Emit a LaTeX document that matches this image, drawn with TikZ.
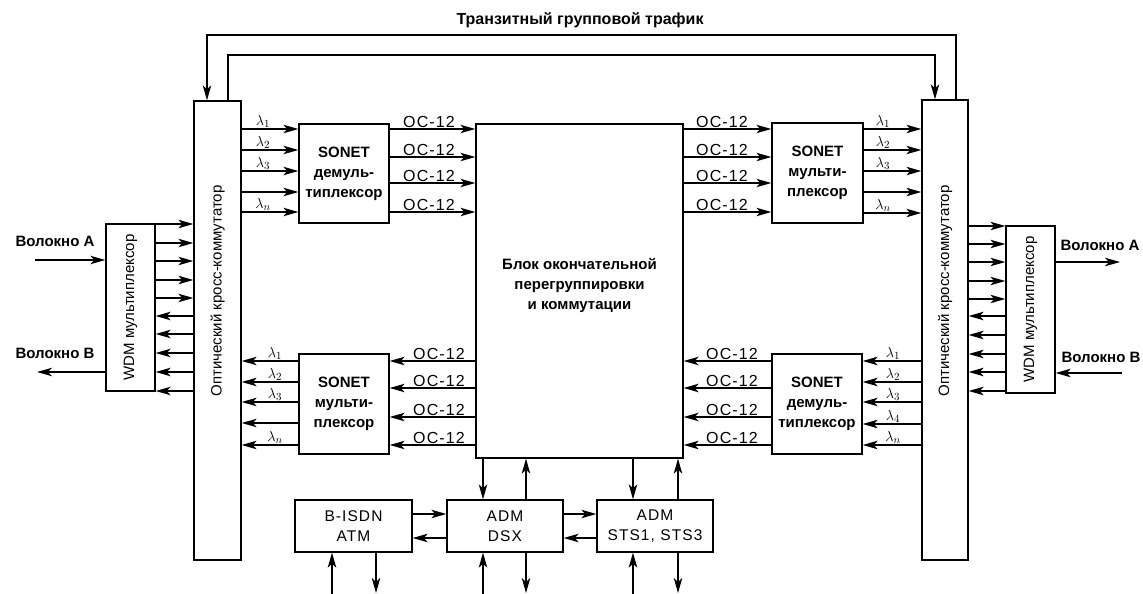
\documentclass[tikz,border=0pt]{standalone}
\usepackage{fontspec}
\setmainfont{Liberation Sans}
\newfontfamily\widefont[LetterSpace=7]{Liberation Sans}
\usetikzlibrary{arrows.meta}
\begin{document}
\begin{tikzpicture}[x=1pt,y=-1pt,
  box/.style={draw, line width=1.3pt, inner sep=0pt, align=center},
  arr/.style={line width=1.3pt, -{Stealth[length=15pt,width=8.5pt,inset=4pt]}},
  txt/.style={font=\fontsize{15}{20}\selectfont, align=center, inner sep=0pt},
  wtxt/.style={font=\widefont\fontsize{15.5}{20}\selectfont, align=center, inner sep=0pt},
  btxt/.style={font=\bfseries\fontsize{15}{20}\selectfont, align=center, inner sep=0pt},
  lam/.style={anchor=south, inner sep=1pt, font=\fontsize{15}{15}\selectfont},
  oc/.style={anchor=south, inner sep=1.5pt, font=\widefont\fontsize{16}{16}\selectfont}]
\useasboundingbox (0,0) rectangle (1143,594);

% main boxes
\node[box, minimum width=47pt, minimum height=459pt] (oxcL) at (217.5,330.5) {};
\node[box, minimum width=46pt, minimum height=460pt] (oxcR) at (945,330) {};
\node[box, minimum width=49pt, minimum height=167pt] (wdmL) at (130.5,307.5) {};
\node[box, minimum width=49pt, minimum height=167pt] (wdmR) at (1030.5,309.5) {};
\node[box, btxt, minimum width=90pt, minimum height=99pt] (demuxTL) at (344,173.5) {SONET\\демуль-\\типлексор};
\node[box, btxt, minimum width=91pt, minimum height=100pt] (muxTR) at (817.5,173) {SONET\\мульти-\\плексор};
\node[box, btxt, minimum width=90pt, minimum height=100pt] (muxBL) at (344,404) {SONET\\мульти-\\плексор};
\node[box, btxt, minimum width=90pt, minimum height=100pt] (demuxBR) at (817,404) {SONET\\демуль-\\типлексор};
\node[box, minimum width=207pt, minimum height=334pt] (core) at (579.5,291) {};
\node[box, wtxt, minimum width=117pt, minimum height=52pt] (bisdn) at (353.5,526) {B-ISDN\\ATM};
\node[box, wtxt, minimum width=116pt, minimum height=52pt] (admdsx) at (505,526) {ADM\\DSX};
\node[box, wtxt, minimum width=116pt, minimum height=52pt] (admsts) at (655,526) {ADM\\STS1, STS3};

% texts
\node[btxt] (coret) at (579.5,285) {Блок окончательной\\перегруппировки\\и коммутации};
\node[txt, rotate=90] (oxcLt) at (217.5,291) {Оптический кросс-коммутатор};
\node[txt, rotate=90] (oxcRt) at (945,291) {Оптический кросс-коммутатор};
\node[txt, rotate=90] (wdmLt) at (130.5,307.5) {WDM мультиплексор};
\node[txt, rotate=90] (wdmRt) at (1030.5,309.5) {WDM мультиплексор};
\node[btxt, font=\bfseries\fontsize{16}{20}\selectfont] (title) at (580,20) {Транзитный групповой трафик};
\node[btxt] (fAL) at (55,241) {Волокно А};
\node[btxt] (fBL) at (55,353) {Волокно В};
\node[btxt] (fAR) at (1100,245) {Волокно А};
\node[btxt] (fBR) at (1101,357) {Волокно В};

% transit loops
\draw[arr] (oxcR.north -| 956,0) -- (956,35) -- (207,35) -- (oxcL.north -| 207,0);
\draw[arr] (oxcL.north -| 228,0) -- (228,55) -- (935,55) -- (oxcR.north -| 935,0);

% fibres
\coordinate (inAL) at (35,260);
\coordinate (outBL) at (37,372);
\coordinate (outAR) at (1120,262);
\coordinate (inBR) at (1122,373);
\draw[arr] (inAL) -- (wdmL.west |- inAL);
\draw[arr] (wdmL.west |- outBL) -- (outBL);
\draw[arr] (wdmR.east |- outAR) -- (outAR);
\draw[arr] (inBR) -- (wdmR.east |- inBR);

% WDM <-> OXC
\foreach \y in {224,243,261,280,298} \draw[arr] (wdmL.east |- 0,\y) -- (oxcL.west |- 0,\y);
\foreach \y in {316,334,353,372,391} \draw[arr] (oxcL.west |- 0,\y) -- (wdmL.east |- 0,\y);
\foreach \y in {226,244,262,281,299} \draw[arr] (oxcR.east |- 0,\y) -- (wdmR.west |- 0,\y);
\foreach \y in {316,335,354,372,391} \draw[arr] (wdmR.west |- 0,\y) -- (oxcR.east |- 0,\y);

% OXC <-> SONET
\foreach \y in {129,150,171,192,212} \draw[arr] (oxcL.east |- 0,\y) -- (demuxTL.west |- 0,\y);
\foreach \y in {129,150,171,192,213} \draw[arr] (muxTR.east |- 0,\y) -- (oxcR.west |- 0,\y);
\foreach \y in {361,382,402,423,445} \draw[arr] (muxBL.west |- 0,\y) -- (oxcL.east |- 0,\y);
\foreach \y in {361,382,402,424,445} \draw[arr] (oxcR.west |- 0,\y) -- (demuxBR.east |- 0,\y);

\foreach \y/\l in {129/1,150/2,171/3,212/n} \node[lam] (lTL\y) at (263,\y) {$\lambda_{\l}$};
\foreach \y/\l in {129/1,150/2,171/3,213/n} \node[lam] (lTR\y) at (883,\y) {$\lambda_{\l}$};
\foreach \y/\l in {361/1,382/2,402/3,445/n} \node[lam] (lBL\y) at (275,\y) {$\lambda_{\l}$};
\foreach \y/\l in {361/1,382/2,402/3,424/4,445/n} \node[lam] (lBR\y) at (893,\y) {$\lambda_{\l}$};

% SONET <-> core
\foreach \y in {129,157,183,212} {
  \draw[arr] (demuxTL.east |- 0,\y) -- (core.west |- 0,\y);
  \node[oc] (ocTL\y) at (429,\y) {OC-12};
  \draw[arr] (core.east |- 0,\y) -- (muxTR.west |- 0,\y);
  \node[oc] (ocTR\y) at (722,\y) {OC-12};
}
\foreach \y in {361,388,417,445} {
  \draw[arr] (core.west |- 0,\y) -- (muxBL.east |- 0,\y);
  \node[oc] (ocBL\y) at (439,\y) {OC-12};
  \draw[arr] (demuxBR.west |- 0,\y) -- (core.east |- 0,\y);
  \node[oc] (ocBR\y) at (732,\y) {OC-12};
}

% core <-> ADMs
\draw[arr] (core.south -| 483,0) -- (admdsx.north -| 483,0);
\draw[arr] (admdsx.north -| 526,0) -- (core.south -| 526,0);
\draw[arr] (core.south -| 633,0) -- (admsts.north -| 633,0);
\draw[arr] (admsts.north -| 678,0) -- (core.south -| 678,0);

% between bottom boxes
\draw[arr] (bisdn.east |- 0,514) -- (admdsx.west |- 0,514);
\draw[arr] (admdsx.west |- 0,538) -- (bisdn.east |- 0,538);
\draw[arr] (admdsx.east |- 0,514) -- (admsts.west |- 0,514);
\draw[arr] (admsts.west |- 0,538) -- (admdsx.east |- 0,538);

% bottom free ends
\foreach \x/\n in {332/a,483/b,633/c} \coordinate (up\n) at (\x,594);
\foreach \x/\n in {376/a,526/b,678/c} \coordinate (dn\n) at (\x,593);
\draw[arr] (upa) -- (bisdn.south -| upa);
\draw[arr] (bisdn.south -| dna) -- (dna);
\draw[arr] (upb) -- (admdsx.south -| upb);
\draw[arr] (admdsx.south -| dnb) -- (dnb);
\draw[arr] (upc) -- (admsts.south -| upc);
\draw[arr] (admsts.south -| dnc) -- (dnc);
\end{tikzpicture}
\end{document}
